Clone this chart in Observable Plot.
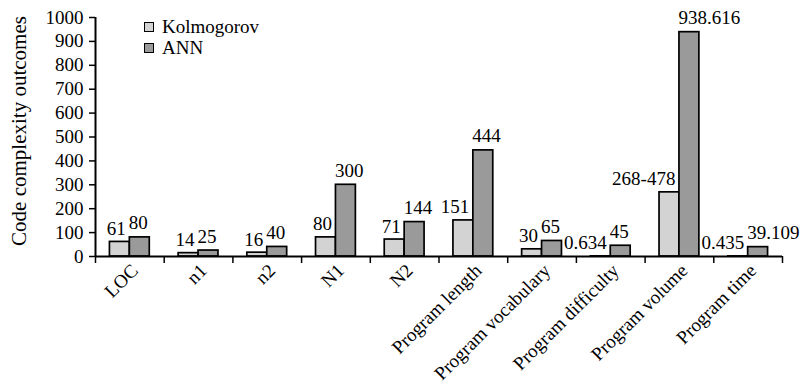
<!DOCTYPE html>
<html>
<head>
<meta charset="utf-8">
<script src="https://cdn.jsdelivr.net/npm/d3@7"></script>
<script src="https://cdn.jsdelivr.net/npm/@observablehq/plot@0.6"></script>
<style>
  html, body { margin: 0; padding: 0; background: #fff; }
  #chart { position: relative; width: 804px; height: 385px; font-family: "Liberation Serif", "Times New Roman", serif; }
  #legend { position: absolute; left: 144px; top: 16px; font-size: 19px; line-height: 21px; color: #000; }
  #legend .item { display: flex; align-items: center; white-space: nowrap; }
  #legend .sw { width: 8px; height: 8px; border: 1.6px solid #000; margin-right: 8px; display: inline-block; }
</style>
</head>
<body>
<div id="chart"></div>
<script>
// Code complexity measures compared for the Kolmogorov and ANN approaches
const categories = ["LOC", "n1", "n2", "N1", "N2", "Program length", "Program vocabulary",
  "Program difficulty", "Program volume", "Program time"];
const seriesNames = ["Kolmogorov", "ANN"];
const kolmogorov = [61, 14, 16, 80, 71, 151, 30, 0.634, 268.478, 0.435];
const ann = [80, 25, 40, 300, 144, 444, 65, 45, 938.616, 39.109];
const kolmogorovLabels = ["61", "14", "16", "80", "71", "151", "30", "0.634", "268-478", "0.435"];
const annLabels = ["80", "25", "40", "300", "144", "444", "65", "45", "938.616", "39.109"];
const yTicks = [0, 100, 200, 300, 400, 500, 600, 700, 800, 900, 1000];
const yLabel = "Code complexity outcomes";
const seriesColors = ["#d3d3d3", "#9a9a9a"];

// each category occupies one unit on x; the two bars sit side by side around its middle
const barWidth = 0.29;
const rows = [];
categories.forEach((cat, i) => {
  rows.push({cat, i, series: "Kolmogorov", value: kolmogorov[i], label: kolmogorovLabels[i],
    x1: i + 0.5 - barWidth, x2: i + 0.5});
  rows.push({cat, i, series: "ANN", value: ann[i], label: annLabels[i],
    x1: i + 0.5, x2: i + 0.5 + barWidth});
});

const font = "Liberation Serif";

const chart = Plot.plot({
  width: 804,
  height: 385,
  marginLeft: 95,
  marginRight: 22,
  marginTop: 17,
  marginBottom: 129,
  x: {domain: [0, categories.length], axis: null},
  y: {domain: [0, 1000], axis: null},
  color: {domain: seriesNames, range: seriesColors},
  style: {fontFamily: font, fontSize: "19px", color: "#000", background: "#fff", overflow: "visible"},
  marks: [
    Plot.rect(rows, {x1: "x1", x2: "x2", y1: 0, y2: "value", fill: "series",
      stroke: "#000", strokeWidth: 1.7}),
    // value labels
    Plot.text(rows.filter(d => d.series === "Kolmogorov"), {
      x: d => d.i + 0.5, y: "value", text: "label", textAnchor: "end",
      lineAnchor: "bottom", dx: -4, dy: -7, fontSize: 19, fill: "#000"}),
    Plot.text(rows.filter(d => d.series === "ANN"), {
      x: d => d.i + 0.5, y: "value", text: "label", textAnchor: "start",
      lineAnchor: "bottom", dx: -1, dy: -8, fontSize: 19, fill: "#000"}),
    // axes
    Plot.axisY({ticks: yTicks, tickSize: 6, tickPadding: 6, tickFormat: d => String(d),
      label: null, fontSize: 19, strokeWidth: 1.5}),
    Plot.axisX({ticks: d3.range(categories.length + 1), tickSize: 7, tickFormat: () => "",
      label: null, strokeWidth: 1.5}),
    Plot.ruleY([0], {strokeWidth: 2}),
    Plot.ruleX([0], {y1: 0, y2: 1000, strokeWidth: 2}),
    // category names, rotated under each group
    Plot.text(categories, {x: (d, i) => i + 0.5, frameAnchor: "bottom", rotate: -45,
      textAnchor: "end", lineAnchor: "middle", dx: 5, dy: 11, fontSize: 19, fill: "#000"}),
    // y-axis title
    Plot.text([yLabel], {frameAnchor: "left", rotate: -90, textAnchor: "middle",
      lineAnchor: "bottom", dx: -70, dy: -6, fontSize: 21, fill: "#000"})
  ]
});

const container = document.getElementById("chart");
container.appendChild(chart);

const legend = document.createElement("div");
legend.id = "legend";
seriesNames.forEach((name, k) => {
  const item = document.createElement("div");
  item.className = "item";
  const sw = document.createElement("span");
  sw.className = "sw";
  sw.style.background = seriesColors[k];
  item.appendChild(sw);
  item.appendChild(document.createTextNode(name));
  legend.appendChild(item);
});
container.appendChild(legend);
</script>
</body>
</html>
